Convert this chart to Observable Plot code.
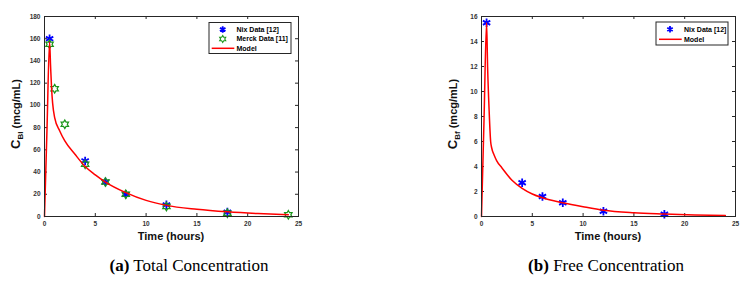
<!DOCTYPE html>
<html><head><meta charset="utf-8">
<script src="https://cdn.jsdelivr.net/npm/d3@7"></script>
<script src="https://cdn.jsdelivr.net/npm/@observablehq/plot@0.6"></script>
<style>
body{margin:0;background:#fff;}
#wrap{position:relative;width:751px;height:281px;overflow:hidden;background:#fff;}
.panel{position:absolute;top:0;}
.cap{position:absolute;top:257px;line-height:17px;font-family:"Liberation Serif","Times New Roman",serif;font-size:17px;color:#000;white-space:nowrap;transform:translateX(-50%);}
</style></head><body>
<div id="wrap">
<div id="a" class="panel" style="left:0"></div>
<div id="b" class="panel" style="left:437px"></div>
<div class="cap" style="left:189px"><b>(a)</b> Total Concentration</div>
<div class="cap" style="left:606px"><b>(b)</b> Free Concentration</div>
</div>
<script>
// ---- data ----
const xTicks = [0, 5, 10, 15, 20, 25];
const yTicksTotal = [0, 20, 40, 60, 80, 100, 120, 140, 160, 180];
const yTicksFree = [0, 2, 4, 6, 8, 10, 12, 14, 16];

const nixTotalT = [0.5, 4, 6, 8, 12, 18];
const nixTotalC = [160, 50, 31, 20, 10.5, 4];
const merckTotalT = [0.5, 1, 2, 4, 6, 8, 12, 18, 24];
const merckTotalC = [155, 115, 83, 47, 31, 20, 9, 3, 1.5];
const modelTotalT = [0, 0.25, 0.5, 0.6, 0.7, 0.8, 1, 1.5, 2, 3, 4, 5, 6, 8, 10, 12, 15, 18, 21, 24];
const modelTotalC = [0, 80, 157, 135, 115, 102, 89, 77, 68, 56, 45, 37.5, 31, 21.5, 14.5, 10, 6.5, 4.2, 2.6, 1.5];

const nixFreeT = [0.5, 4, 6, 8, 12, 18];
const nixFreeC = [15.5, 2.7, 1.6, 1.1, 0.42, 0.18];
const modelFreeT = [0, 0.25, 0.5, 0.6, 0.75, 0.9, 1, 1.25, 1.5, 2, 3, 4, 5, 6, 8, 10, 12, 15, 18, 21, 24];
const modelFreeC = [0, 7.8, 15.5, 12, 8.5, 6.0, 5.5, 4.9, 4.45, 3.9, 2.9, 2.25, 1.8, 1.5, 1.1, 0.78, 0.5, 0.3, 0.2, 0.12, 0.08];

const zip = (t, c) => t.map((d, i) => ({t: d, c: c[i]}));

const hexagram = {
  draw(ctx, size) {
    const R = Math.sqrt(size / Math.PI), r = R / Math.sqrt(3);
    for (let k = 0; k < 12; k++) {
      const a = -Math.PI / 2 + k * Math.PI / 6, rr = k % 2 ? r : R;
      const x = rr * Math.cos(a), y = rr * Math.sin(a);
      k ? ctx.lineTo(x, y) : ctx.moveTo(x, y);
    }
    ctx.closePath();
  }
};

const BLUE = "#0000ff", GREEN = "#1a961a", RED = "#ff0000", AX = "#262626";
const W = 311, H = 250, ML = 44, MR = 13, MT = 16, MB = 34;
const PW = W - ML - MR, PH = H - MT - MB;

function panel(el, yDomain, yTicks, scatter, model, sub, legendSpec) {
  const marks = [
    Plot.ruleX(xTicks, {stroke: AX, insetTop: PH - 3}),
    Plot.ruleX(xTicks, {stroke: AX, insetBottom: PH - 3}),
    Plot.ruleY(yTicks, {stroke: AX, insetRight: PW - 3}),
    Plot.ruleY(yTicks, {stroke: AX, insetLeft: PW - 3}),
    Plot.axisX({ticks: xTicks, tickSize: 0, tickPadding: 5, fontSize: 6.5, fill: "#333", label: null}),
    Plot.axisY({ticks: yTicks, tickSize: 0, tickPadding: 4, fontSize: 6.5, fill: "#333", label: null}),
  ];
  for (const s of scatter) {
    marks.push(Plot.dot(s.data, {x: "t", y: "c", symbol: s.symbol, r: s.r, stroke: s.color, strokeWidth: s.sw, fill: "none"}));
  }
  marks.push(Plot.line(model, {x: "t", y: "c", stroke: RED, strokeWidth: 1.5, curve: "monotone-x"}));
  marks.push(Plot.frame({stroke: AX, strokeWidth: 1}));

  const svg = Plot.plot({
    width: W, height: H, marginLeft: ML, marginRight: MR, marginTop: MT, marginBottom: MB,
    x: {domain: [0, 25]}, y: {domain: yDomain},
    style: {fontFamily: "'Liberation Sans', Arial, sans-serif", fontWeight: "bold", background: "white", overflow: "visible"},
    marks
  });
  const s = d3.select(svg);
  // x label
  s.append("text").attr("x", ML + PW / 2).attr("y", 240).attr("text-anchor", "middle")
    .attr("font-size", 11).attr("font-weight", "bold").attr("fill", "#111").text("Time (hours)");
  // y label
  const yl = s.append("text").attr("transform", `translate(20,${MT + PH / 2 - 2}) rotate(-90)`)
    .attr("text-anchor", "middle").attr("font-weight", "bold").attr("fill", "#111");
  yl.append("tspan").attr("font-size", 13).text("C");
  yl.append("tspan").attr("font-size", 8).attr("dy", 3).text(sub);
  yl.append("tspan").attr("font-size", 11).attr("dy", -3).text(" (mcg/mL)");
  // legend
  const L = legendSpec;
  const g = s.append("g");
  g.append("rect").attr("x", L.x).attr("y", L.y).attr("width", L.w).attr("height", L.h)
    .attr("fill", "white").attr("stroke", AX).attr("stroke-width", 1);
  for (const e of L.entries) {
    if (e.line) {
      g.append("line").attr("x1", e.x1).attr("x2", e.x2).attr("y1", e.y).attr("y2", e.y)
        .attr("stroke", RED).attr("stroke-width", 1.5);
    } else {
      g.append("path").attr("transform", `translate(${e.mx},${e.y})`)
        .attr("d", d3.symbol(e.symbol, Math.PI * e.r * e.r)())
        .attr("fill", "none").attr("stroke", e.color).attr("stroke-width", e.sw);
    }
    g.append("text").attr("x", L.tx).attr("y", e.y).attr("dy", "0.35em").attr("text-anchor", "start")
      .attr("font-size", 7).attr("font-weight", "bold").attr("fill", "#000").text(e.label);
  }
  document.getElementById(el).appendChild(svg);
}

panel("a", [0, 180], yTicksTotal,
  [
    {data: zip(nixTotalT, nixTotalC), symbol: "asterisk", r: 4, color: BLUE, sw: 1.8},
    {data: zip(merckTotalT, merckTotalC), symbol: hexagram, r: 4.3, color: GREEN, sw: 1.2}
  ],
  zip(modelTotalT, modelTotalC), "Bl",
  {x: 209, y: 22.5, w: 82, h: 31, tx: 236.5, entries: [
    {label: "Nix Data [12]", symbol: d3.symbolAsterisk, r: 3, color: BLUE, sw: 1.8, mx: 222.7, y: 29.5},
    {label: "Merck Data [11]", symbol: hexagram, r: 3.5, color: GREEN, sw: 1.1, mx: 222.7, y: 39},
    {label: "Model", line: true, x1: 211.7, x2: 234.3, y: 48.3}
  ]});

panel("b", [0, 16], yTicksFree,
  [
    {data: zip(nixFreeT, nixFreeC), symbol: "asterisk", r: 4, color: BLUE, sw: 1.8}
  ],
  zip(modelFreeT, modelFreeC), "Bf",
  {x: 219, y: 22, w: 72, h: 23, tx: 247, entries: [
    {label: "Nix Data [12]", symbol: d3.symbolAsterisk, r: 3, color: BLUE, sw: 1.8, mx: 233, y: 29.3},
    {label: "Model", line: true, x1: 222, x2: 244.7, y: 39.3}
  ]});
</script>
</body></html>
